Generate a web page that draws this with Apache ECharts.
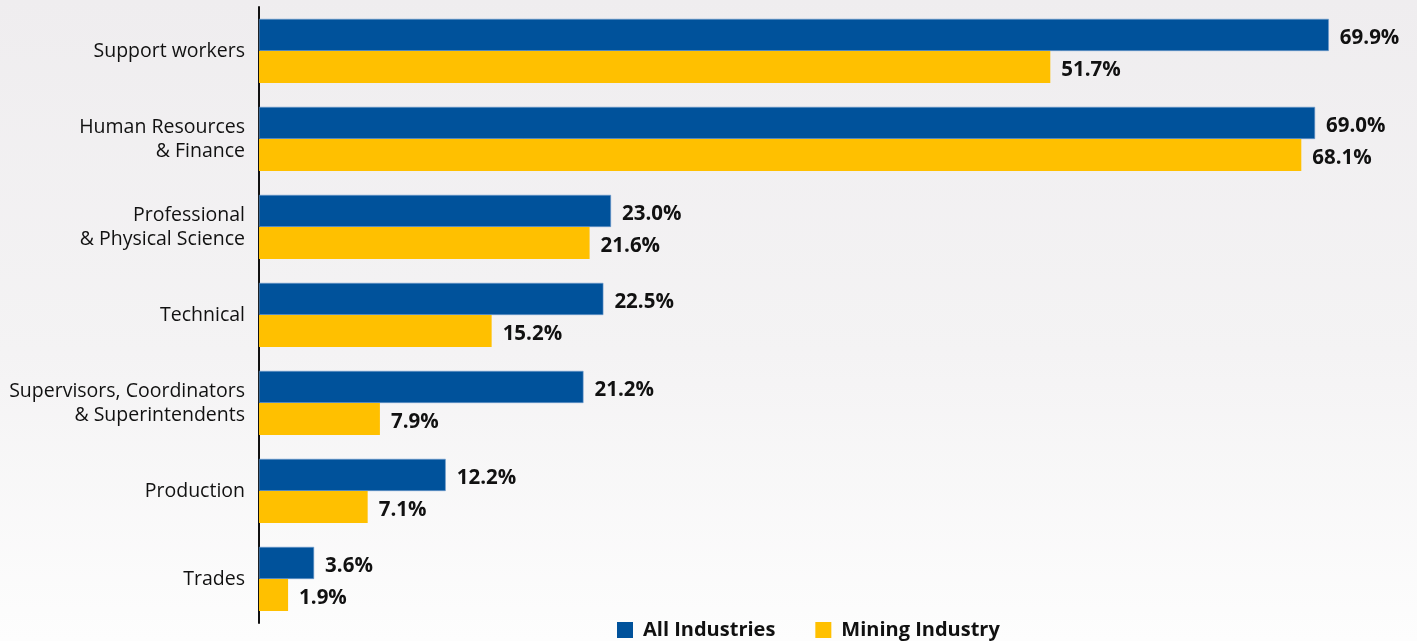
<!DOCTYPE html>
<html>
<head>
<meta charset="utf-8">
<style>
  html, body { margin: 0; padding: 0; }
  body { background: linear-gradient(to bottom, #efedef 0%, #f4f3f4 55%, #fdfdfd 100%); }
  #chart { width: 1417px; height: 641px; }
</style>
<script src="https://cdn.jsdelivr.net/npm/echarts@6/dist/echarts.min.js"></script>
</head>
<body>
<div id="chart"></div>
<script>
// Occupation groups, top to bottom
const categories = [
  'Support workers',
  'Human Resources\n& Finance',
  'Professional\n& Physical Science',
  'Technical',
  'Supervisors, Coordinators\n& Superintendents',
  'Production',
  'Trades'
];
// Share (%) for each group
const allIndustries = [69.9, 69.0, 23.0, 22.5, 21.2, 12.2, 3.6];
const miningIndustry = [51.7, 68.1, 21.6, 15.2, 7.9, 7.1, 1.9];
const seriesNames = ['All Industries', 'Mining Industry'];

const FONT = '"Open Sans", "Noto Sans", sans-serif';
const chart = echarts.init(document.getElementById('chart'), null, { renderer: 'canvas' });

const valueLabel = {
  show: true,
  position: 'right',
  distance: 11,
  offset: [0, 3],
  formatter: p => p.value.toFixed(1) + '%',
  color: '#111',
  fontFamily: FONT,
  fontWeight: 'bold',
  fontSize: 20.5
};

chart.setOption({
  backgroundColor: 'transparent',
  animation: false,
  grid: { left: 259, right: 56, top: 7, bottom: 18, containLabel: false },
  legend: {
    top: 615,
    left: 612,
    itemWidth: 16,
    itemHeight: 16,
    itemGap: 40,
    icon: 'rect',
    itemStyle: { borderWidth: 0 },
    textStyle: {
      fontFamily: FONT, fontWeight: 'bold', fontSize: 20, color: '#111',
      padding: [0, 0, 0, 5]
    },
    data: seriesNames
  },
  xAxis: {
    type: 'value',
    min: 0,
    max: 72,
    show: false
  },
  yAxis: {
    type: 'category',
    inverse: true,
    data: categories,
    axisLine: { show: true, lineStyle: { color: '#111', width: 2 } },
    axisTick: { show: false },
    axisLabel: {
      margin: 14,
      fontFamily: FONT,
      fontSize: 19.5,
      color: '#111',
      lineHeight: 24,
      align: 'right'
    }
  },
  series: [
    {
      name: seriesNames[0],
      type: 'bar',
      data: allIndustries,
      barCategoryGap: '27%',
      barGap: '0%',
      itemStyle: { color: '#00529b', borderColor: '#6f9ccc', borderWidth: 0.6 },
      label: valueLabel
    },
    {
      name: seriesNames[1],
      type: 'bar',
      data: miningIndustry,
      barCategoryGap: '27%',
      barGap: '0%',
      itemStyle: { color: '#ffc000' },
      label: valueLabel
    }
  ]
});
</script>
</body>
</html>
